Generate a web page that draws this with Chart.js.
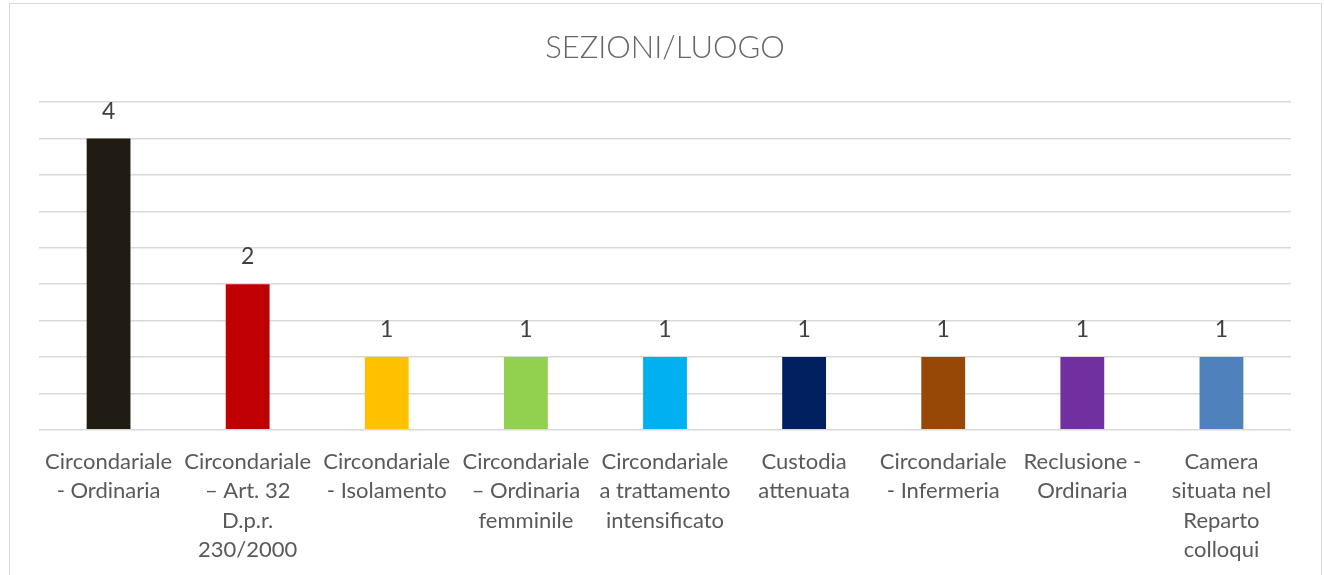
<!DOCTYPE html>
<html>
<head>
<meta charset="utf-8">
<script src="https://cdn.jsdelivr.net/npm/chart.js@4"></script>
<style>
  html, body { margin: 0; padding: 0; background: #fff; }
  .frame { position: absolute; left: 9px; top: 3px; width: 1311px; height: 600px; border: 1px solid #d9d9d9; }
  .wrap { position: absolute; left: 0; top: 0; width: 1324px; height: 575px; }
</style>
</head>
<body>
<div class="frame"></div>
<div class="wrap"><canvas id="sezioniChart"></canvas></div>
<script>
// --------------------- Data ---------------------
const categories = [
  ["Circondariale", "- Ordinaria"],
  ["Circondariale", "\u2013 Art. 32", "D.p.r.", "230/2000"],
  ["Circondariale", "- Isolamento"],
  ["Circondariale", "\u2013 Ordinaria", "femminile"],
  ["Circondariale", "a trattamento", "intensificato"],
  ["Custodia", "attenuata"],
  ["Circondariale", "- Infermeria"],
  ["Reclusione -", "Ordinaria"],
  ["Camera", "situata nel", "Reparto", "colloqui"]
];
const counts = [4, 2, 1, 1, 1, 1, 1, 1, 1];
const barColors = ["#201c13", "#c00000", "#ffc000", "#92d050", "#00b0f0", "#002060", "#974706", "#7030a0", "#4f81bd"];

// --------------------- Value labels ---------------------
const valueLabels = {
  id: "valueLabels",
  afterDatasetsDraw(chart) {
    const ctx = chart.ctx;
    const meta = chart.getDatasetMeta(0);
    ctx.save();
    ctx.font = "23px Lato";
    ctx.fillStyle = "#404040";
    ctx.textAlign = "center";
    ctx.textBaseline = "alphabetic";
    meta.data.forEach((bar, i) => {
      ctx.fillText(String(counts[i]), bar.x, bar.y - 20);
    });
    ctx.restore();
  }
};

// --------------------- Chart ---------------------
new Chart(document.getElementById("sezioniChart"), {
  type: "bar",
  data: {
    labels: categories,
    datasets: [{ data: counts, backgroundColor: barColors, barPercentage: 0.63, categoryPercentage: 0.5 }]
  },
  options: {
    responsive: true,
    maintainAspectRatio: false,
    animation: false,
    layout: { padding: { left: 39, right: 33, top: 14, bottom: 1 } },
    plugins: {
      legend: { display: false },
      tooltip: { enabled: false },
      title: {
        display: true,
        text: "SEZIONI/LUOGO",
        color: "#666666",
        font: { family: "Lato", size: 31, weight: "300" },
        padding: { top: 15, bottom: 36 }
      }
    },
    scales: {
      x: {
        grid: { display: false },
        border: { display: false },
        ticks: {
          color: "#595959",
          font: { family: "Lato", size: 22, lineHeight: 1.32 },
          maxRotation: 0,
          autoSkip: false,
          padding: 10
        }
      },
      y: {
        min: 0,
        max: 4.5,
        border: { display: false },
        grid: { color: "#d9d9d9", lineWidth: 1.5, drawTicks: false },
        ticks: { display: false, stepSize: 0.5 }
      }
    }
  },
  plugins: [valueLabels]
});
</script>
</body>
</html>
